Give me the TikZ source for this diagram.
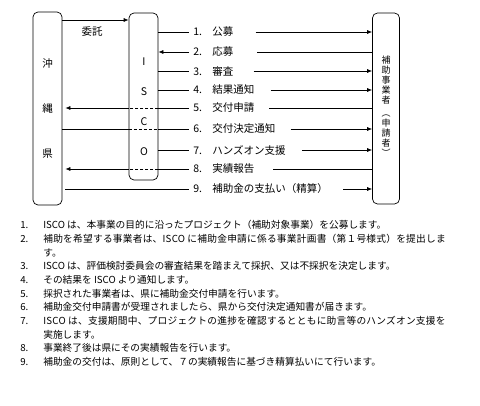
\documentclass[tikz,border=0pt]{standalone}
\usepackage{fontspec}
\setmainfont{Noto Sans CJK JP}
\usetikzlibrary{arrows.meta,positioning}

\newcommand{\steptext}[2]{\makebox[19pt][l]{#1}#2}
\newcommand{\itemnum}[1]{\makebox[23pt][l]{#1}}

\begin{document}
\begin{tikzpicture}[x=1pt, y=-1pt, >={Latex[length=5pt,width=4pt]}, line width=0.7pt]
    \useasboundingbox (0,0) rectangle (480,406);
    % Blocks
    \tikzstyle{party} = [draw, rounded corners=5pt, inner sep=0pt]
    \tikzstyle{steplabel} = [anchor=west, inner sep=0pt, font=\fontsize{10.5}{12}\selectfont]
    \tikzstyle{through} = [dash pattern=on 3pt off 2pt]

    \node[party, minimum width=29pt, minimum height=193pt] (pref) at (47.5,108.5) {};
    \node[party, minimum width=29pt, minimum height=167pt] (isco) at (143.5,96.5) {};
    \node[party, minimum width=27pt, minimum height=191pt] (firm) at (386,108.5) {};

    % Texts in blocks
    \node[align=center, font=\fontsize{10.5}{45}\selectfont] (pref-text) at (pref.center) {沖\\縄\\県};
    \node[align=center, font=\fontsize{10.5}{30}\selectfont] (isco-text) at (144,107) {I\\S\\C\\O};
    \node[align=center, font=\fontsize{9}{10}\selectfont] (firm-text) at (386,106.5) {補\\助\\事\\業\\者\\[3pt]︵\\申\\請\\者\\︶};

    % Entrustment
    \draw[->] (pref.east |- 0,20) -- (isco.west |- 0,20);
    \node[font=\fontsize{10.5}{12}\selectfont] (entrust) at (92,32) {委託};

    % Step labels
    \node[steplabel] (s1) at (193,32) {\steptext{1.}{公募}};
    \node[steplabel] (s2) at (193,52) {\steptext{2.}{応募}};
    \node[steplabel] (s3) at (193,71) {\steptext{3.}{審査}};
    \node[steplabel] (s4) at (193,90) {\steptext{4.}{結果通知}};
    \node[steplabel] (s5) at (193,108) {\steptext{5.}{交付申請}};
    \node[steplabel] (s6) at (193,129) {\steptext{6.}{交付決定通知}};
    \node[steplabel] (s7) at (193,150) {\steptext{7.}{ハンズオン支援}};
    \node[steplabel] (s8) at (193,169) {\steptext{8.}{実績報告}};
    \node[steplabel] (s9) at (193,189) {\steptext{9.}{補助金の支払い（精算）}};

    % Lines
    \draw[shorten >=4pt] (isco.east |- s1.west) -- (s1.west);
    \draw[->, shorten <=22pt] (s1.east) -- (firm.west |- s1.east);
    \draw[->, shorten <=4pt] (s2.west) -- (isco.east |- s2.west);
    \draw[shorten >=23pt] (firm.west |- s2.east) -- (s2.east);
    \draw[shorten >=4pt] (isco.east |- s3.west) -- (s3.west);
    \draw[->, shorten <=20pt] (s3.east) -- (firm.west |- s3.east);
    \draw[shorten >=4pt] (isco.east |- s4.west) -- (s4.west);
    \draw[->, shorten <=16pt] (s4.east) -- (firm.west |- s4.east);

    \draw[shorten >=14pt] (firm.west |- s5.east) -- (s5.east);
    \draw[shorten <=4pt] (s5.west) -- (isco.east |- s5.west);
    \draw[through] (isco.east |- s5.west) -- (isco.west |- s5.west);
    \draw[->, shorten >=3pt] (isco.west |- s5.west) -- (pref.east |- s5.west);

    \draw (pref.east |- s6.west) -- (isco.west |- s6.west);
    \draw[through] (isco.west |- s6.west) -- (isco.east |- s6.west);
    \draw[shorten >=4pt] (isco.east |- s6.west) -- (s6.west);
    \draw[->, shorten <=15pt] (s6.east) -- (firm.west |- s6.east);

    \draw[shorten >=4pt] (isco.east |- s7.west) -- (s7.west);
    \draw[->, shorten <=16pt] (s7.east) -- (firm.west |- s7.east);

    \draw[shorten >=18pt] (firm.west |- s8.east) -- (s8.east);
    \draw[shorten <=4pt] (s8.west) -- (isco.east |- s8.west);
    \draw[through] (isco.east |- s8.west) -- (isco.west |- s8.west);
    \draw[->, shorten >=3pt] (isco.west |- s8.west) -- (pref.east |- s8.west);

    \draw[shorten <=3pt, shorten >=4pt] (pref.east |- s9.west) -- (s9.west);
    \draw[->, shorten <=15pt] (s9.east) -- (firm.west |- s9.east);

    % Notes
    \node[anchor=north west, inner sep=0pt, align=left, font=\fontsize{9.7}{13.7}\selectfont] (notes) at (20,220) {%
        \itemnum{1.}ISCO は、本事業の目的に沿ったプロジェクト（補助対象事業）を公募します。\\
        \itemnum{2.}{\addfontfeature{LetterSpace=2.5}補助を希望する事業者は、ISCO に補助金申請に係る事業計画書（第１号様式）を提出しま}\\
        \itemnum{}す。\\
        \itemnum{3.}ISCO は、評価検討委員会の審査結果を踏まえて採択、又は不採択を決定します。\\
        \itemnum{4.}その結果を ISCO より通知します。\\
        \itemnum{5.}採択された事業者は、県に補助金交付申請を行います。\\
        \itemnum{6.}補助金交付申請書が受理されましたら、県から交付決定通知書が届きます。\\
        \itemnum{7.}{\addfontfeature{LetterSpace=2.5}ISCO は、支援期間中、プロジェクトの進捗を確認するとともに助言等のハンズオン支援を}\\
        \itemnum{}実施します。\\
        \itemnum{8.}事業終了後は県にその実績報告を行います。\\
        \itemnum{9.}補助金の交付は、原則として、７の実績報告に基づき精算払いにて行います。};
\end{tikzpicture}
\end{document}
